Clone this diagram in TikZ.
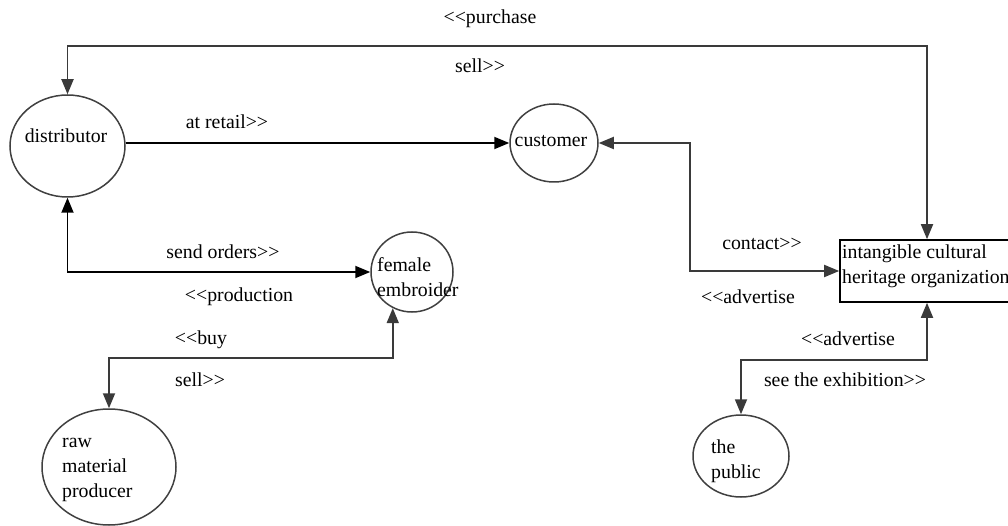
\documentclass[tikz,border=0pt]{standalone}
\usepackage{fontspec}
\setmainfont{Liberation Serif}[Ligatures=TeX]
\newfontfamily\diagramfont{Liberation Serif}
\usetikzlibrary{shapes.geometric,arrows.meta}
\definecolor{linegrey}{HTML}{3A3A3A}
\definecolor{rimgrey}{HTML}{404040}
\begin{document}
\begin{tikzpicture}[x=1pt,y=-1pt,
  font=\diagramfont\fontsize{19.8}{25}\selectfont,
  >={Triangle[length=15pt,width=12pt]},
  actor/.style={ellipse, draw=rimgrey, line width=1.5pt, inner sep=0pt},
  org/.style={rectangle, draw=black, line width=1.6pt, inner sep=0pt},
  caption/.style={inner sep=0pt, align=left, anchor=west},
  tag/.style={inner sep=0pt},
  bconn/.style={draw=black, line width=1.8pt},
  gconn/.style={draw=linegrey, line width=1.8pt}]
\useasboundingbox (0,0) rectangle (1008,526);
\clip (0,0) rectangle (1008,526);

% actors
\node[actor, minimum width=115, minimum height=102] (dist) at (67.5,146) {};
\node[actor, minimum width=88, minimum height=78] (cust) at (554,143) {};
\node[actor, minimum width=82, minimum height=80] (emb) at (412,272) {};
\node[actor, minimum width=134, minimum height=116] (raw) at (109,467) {};
\node[actor, minimum width=96, minimum height=82] (pub) at (741,456) {};
\node[org, minimum width=174, minimum height=62] (ich) at (927,271) {};

% actor names
\node[tag] (dist-t) at (66,136) {distributor};
\node[tag] (cust-t) at (551,141) {customer};
\node[caption] (emb-t) at (377,277) {female\\embroider};
\node[caption] (raw-t) at (62,470) {raw\\material\\producer};
\node[caption] (pub-t) at (711,461) {the\\public};
\node[caption] (ich-t) at (842,266) {intangible cultural\\heritage organization};

% turning rows and columns of the connectors
\coordinate (topy) at (0,46);
\coordinate (contx) at (690,0);
\coordinate (buyy) at (0,358);
\coordinate (advy) at (0,360);

% connectors
\draw[gconn,<->] (dist.north) -- (dist.north |- topy) -- (ich.north |- topy) -- (ich.north);
\draw[bconn,->] (dist.east |- cust) -- (cust.west);
\draw[gconn,<->] (cust.east) -- (cust.east -| contx) -- (contx |- ich.west) -- (ich.west);
\draw[bconn,<->] (dist.south) |- (emb.west);
\draw[gconn,<->] (emb.242) -- (emb.242 |- buyy) -- (raw.north |- buyy) -- (raw.north);
\draw[gconn,<->] (ich.south) -- (ich.south |- advy) -- (pub.north |- advy) -- (pub.north);

% connector labels
\node[tag] (l-purchase) at (490,19) {<{}<purchase};
\node[tag] (l-sell1) at (480,66) {sell>{}>};
\node[tag] (l-retail) at (227,122) {at retail>{}>};
\node[tag] (l-contact) at (762,244) {contact>{}>};
\node[tag] (l-adv1) at (748,297) {<{}<advertise};
\node[tag] (l-orders) at (223,252) {send orders>{}>};
\node[tag] (l-prod) at (239,297) {<{}<production};
\node[tag] (l-buy) at (201,340) {<{}<buy};
\node[tag] (l-sell2) at (200,380) {sell>{}>};
\node[tag] (l-adv2) at (848,339) {<{}<advertise};
\node[tag] (l-exhib) at (845,380) {see the exhibition>{}>};
\end{tikzpicture}
\end{document}
